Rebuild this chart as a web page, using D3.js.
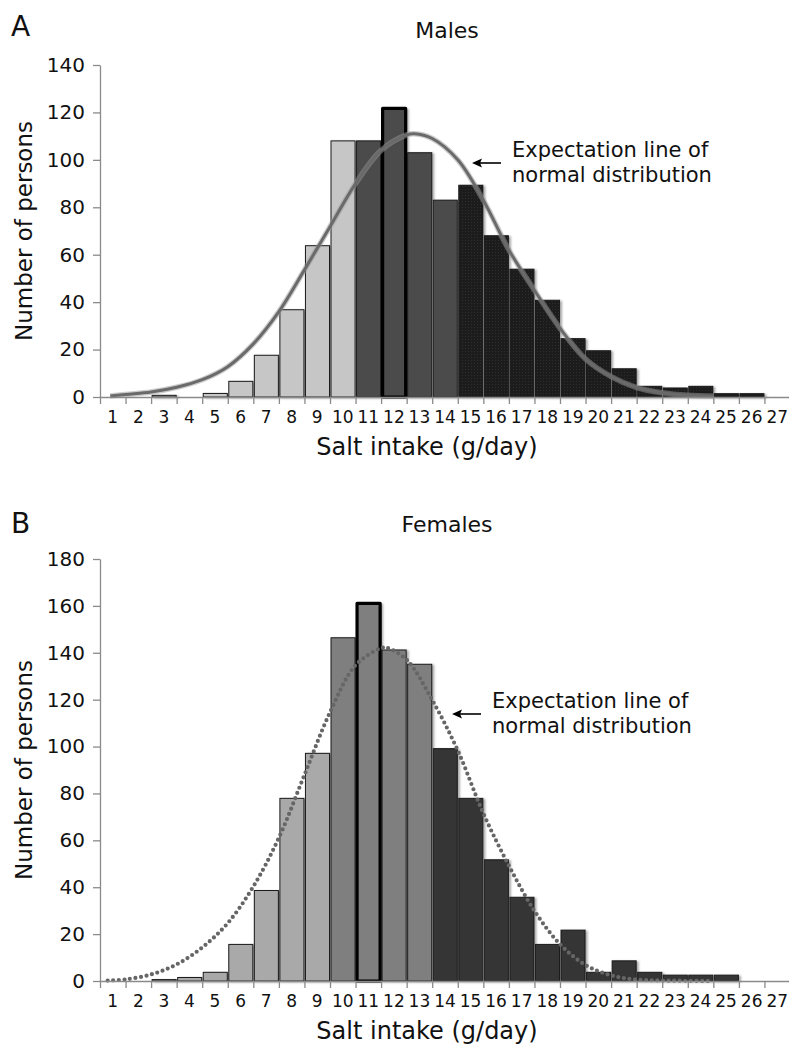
<!DOCTYPE html>
<html>
<head>
<meta charset="utf-8">
<script src="https://cdn.jsdelivr.net/npm/d3@7"></script>
<style>
    html, body { margin: 0; padding: 0; background: #fff; }
    svg { display: block; font-family: "DejaVu Sans", Verdana, sans-serif; }
</style>
</head>
<body>
<svg id="chart" width="789" height="1046"></svg>
<script>
// salt intake bins (g/day)
const bins = d3.range(1, 28);

// panel A - males
const maleCounts = [0, 0, 0.7, 0, 1.5, 6.6, 17.6, 36.8, 63.8, 108, 108, 121.7, 103, 83,
    89.3, 68, 53.9, 40.8, 24.6, 19.5, 11.9, 4.5, 3.8, 4.5, 1.4, 1.4, 0];
const maleGroupEnds = [10, 14];       // last bin of light / mid shading
const maleHighlight = 12;
const maleCurveX = [0.4, 1, 2, 3, 4, 5, 6, 7, 8, 9, 10, 11, 12, 12.3, 13, 14, 15, 16, 17, 18, 19, 20, 21, 22, 23, 24];
const maleCurveY = [0.4, 1.1, 2.1, 4.1, 7.3, 12.8, 22.4, 36, 53.6, 71.8, 90, 104, 110.5, 111, 109, 100, 83, 62, 45, 29, 16, 8.6, 4, 1.8, 0.7, 0.3];
const maleTicks = d3.range(0, 141, 20);

// panel B - females
const femaleCounts = [0, 0, 0.6, 1.5, 3.7, 15.6, 38.6, 77.9, 97.1, 146.4, 161.1, 141.2, 135.1, 99.1,
    77.9, 51.7, 35.7, 15.6, 21.7, 3.7, 8.6, 3.7, 2.5, 2.5, 2.5, 0, 0];
const femaleGroupEnds = [9, 13];
const femaleHighlight = 11;
const femaleCurveX = [0.3, 1, 2, 3, 4, 5, 6, 7, 8, 9, 10, 11, 11.2, 12, 13, 14, 15, 16, 17, 18, 19, 20, 21, 22, 23, 24];
const femaleCurveY = [0.2, 0.7, 2.8, 7.1, 14.3, 24.7, 40.3, 61.1, 87.9, 114.6, 134.7, 142, 142.2, 137, 119.8, 98.3, 71.5, 49.2, 29.9, 15.7, 6.8, 2.4, 0.6, 0.2, 0.1, 0];
const femaleTicks = d3.range(0, 181, 20);

const svg = d3.select('#chart');
const defs = svg.append('defs');

// soft shadow behind bars
const shadow = defs.append('filter').attr('id', 'shadow')
    .attr('x', '-20%').attr('y', '-20%').attr('width', '150%').attr('height', '140%');
shadow.append('feDropShadow')
    .attr('dx', 2).attr('dy', 1).attr('stdDeviation', 1.2)
    .attr('flood-color', '#000').attr('flood-opacity', 0.35);

// fine dot texture on the darkest bars
const pat = defs.append('pattern').attr('id', 'texture')
    .attr('patternUnits', 'userSpaceOnUse').attr('width', 3).attr('height', 3);
pat.append('rect').attr('width', 3).attr('height', 3).attr('fill', '#1c1c1c');
pat.append('rect').attr('width', 1).attr('height', 1).attr('fill', '#2e2e2e');

function drawPanel(opts) {
    const g = svg.append('g');

    const x = d3.scaleLinear().domain([0, 27]).range([100, 790]);
    const y = d3.scaleLinear().domain([0, opts.yMax]).range([opts.bottom, opts.top]);

    // bars
    const shade = k => k <= opts.groupEnds[0] ? opts.colors[0]
        : k <= opts.groupEnds[1] ? opts.colors[1] : opts.colors[2];

    g.append('g').attr('filter', 'url(#shadow)')
        .selectAll('rect')
        .data(bins.map((k, i) => ({ k, v: opts.counts[i] })).filter(d => d.v > 0))
        .join('rect')
        .attr('x', d => x(d.k - 1) + 1)
        .attr('width', d => x(d.k) - x(d.k - 1) - 1.5)
        .attr('y', d => y(d.v))
        .attr('height', d => y(0) - y(d.v))
        .attr('fill', d => shade(d.k))
        .attr('stroke', '#1a1a1a')
        .attr('stroke-width', 1);

    // highlighted modal bin
    const hv = opts.counts[opts.highlight - 1];
    g.append('rect')
        .attr('x', x(opts.highlight - 1) + 1.5)
        .attr('width', x(opts.highlight) - x(opts.highlight - 1) - 2.5)
        .attr('y', y(hv))
        .attr('height', y(0) - y(hv))
        .attr('fill', 'none')
        .attr('stroke', '#000')
        .attr('stroke-width', 3.2)
        .attr('stroke-linejoin', 'round');

    // expectation line
    const line = d3.line()
        .x(d => x(d[0]))
        .y(d => y(d[1]))
        .curve(d3.curveCatmullRom.alpha(0.5));
    const pts = opts.curveX.map((u, i) => [u, opts.curveY[i]]);
    if (opts.dotted) {
        g.append('path').attr('d', line(pts))
            .attr('fill', 'none')
            .attr('stroke', '#666')
            .attr('stroke-width', 4.2)
            .attr('stroke-linecap', 'round')
            .attr('stroke-dasharray', '0 5.6');
    } else {
        g.append('path').attr('d', line(pts))
            .attr('fill', 'none')
            .attr('stroke', '#999')
            .attr('stroke-opacity', 0.5)
            .attr('stroke-width', 5.5);
        g.append('path').attr('d', line(pts))
            .attr('fill', 'none')
            .attr('stroke', '#6a6a6a')
            .attr('stroke-width', 3);
    }

    // y axis
    const yAxis = g.append('g')
        .attr('transform', 'translate(100,0)')
        .call(d3.axisLeft(y).tickValues(opts.yTicks).tickSize(7).tickSizeOuter(0).tickPadding(8));
    yAxis.selectAll('path, line').attr('stroke', '#8a8a8a').attr('stroke-width', 1.3);
    yAxis.selectAll('text')
        .attr('font-size', 20)
        .attr('font-family', '"DejaVu Sans", Verdana, sans-serif')
        .attr('fill', '#111');

    // x axis
    const xAxis = g.append('g')
        .attr('transform', `translate(0,${opts.bottom})`)
        .call(d3.axisBottom(x).tickValues(d3.range(0, 28)).tickSize(7).tickSizeOuter(0).tickFormat(''));
    xAxis.selectAll('path, line').attr('stroke', '#8a8a8a').attr('stroke-width', 1.3);

    g.append('g').selectAll('text')
        .data(bins)
        .join('text')
        .attr('x', k => x(k - 0.5))
        .attr('y', opts.bottom + 26)
        .attr('text-anchor', 'middle')
        .attr('font-size', 17)
        .attr('fill', '#111')
        .text(k => k);

    // titles
    g.append('text')
        .attr('x', 447).attr('y', opts.top - 27)
        .attr('text-anchor', 'middle')
        .attr('font-size', 22)
        .attr('fill', '#111')
        .text(opts.title);

    g.append('text')
        .attr('x', 11).attr('y', opts.letterY)
        .attr('font-size', 28)
        .attr('fill', '#111')
        .text(opts.letter);

    g.append('text')
        .attr('transform', `translate(32,${(opts.top + opts.bottom) / 2}) rotate(-90)`)
        .attr('text-anchor', 'middle')
        .attr('font-size', 23)
        .attr('fill', '#111')
        .text('Number of persons');

    g.append('text')
        .attr('x', 427).attr('y', opts.bottom + 58)
        .attr('text-anchor', 'middle')
        .attr('font-size', 24)
        .attr('fill', '#111')
        .text('Salt intake (g/day)');

    // annotation with arrow
    const ann = g.append('text')
        .attr('x', opts.noteX).attr('y', opts.noteY)
        .attr('font-size', 21)
        .attr('fill', '#111');
    ann.append('tspan').attr('x', opts.noteX).text('Expectation line of');
    ann.append('tspan').attr('x', opts.noteX).attr('dy', 25).text('normal distribution');

    const ay = opts.noteY + 6;
    const ax = opts.noteX - 40;
    g.append('line')
        .attr('x1', ax + 8).attr('x2', ax + 29)
        .attr('y1', ay).attr('y2', ay)
        .attr('stroke', '#000').attr('stroke-width', 1.6);
    g.append('path')
        .attr('d', `M${ax},${ay} L${ax + 10},${ay - 4.5} L${ax + 8},${ay} L${ax + 10},${ay + 4.5} Z`)
        .attr('fill', '#000');
}

drawPanel({
    top: 65, bottom: 397, yMax: 140, yTicks: maleTicks,
    counts: maleCounts, groupEnds: maleGroupEnds, highlight: maleHighlight,
    colors: ['#c6c6c6', '#4c4c4c', 'url(#texture)'],
    curveX: maleCurveX, curveY: maleCurveY, dotted: false,
    title: 'Males', letter: 'A', letterY: 36,
    noteX: 512, noteY: 157
});

drawPanel({
    top: 559, bottom: 981, yMax: 180, yTicks: femaleTicks,
    counts: femaleCounts, groupEnds: femaleGroupEnds, highlight: femaleHighlight,
    colors: ['#a9a9a9', '#7f7f7f', '#343434'],
    curveX: femaleCurveX, curveY: femaleCurveY, dotted: true,
    title: 'Females', letter: 'B', letterY: 533,
    noteX: 492, noteY: 708
});
</script>
</body>
</html>
